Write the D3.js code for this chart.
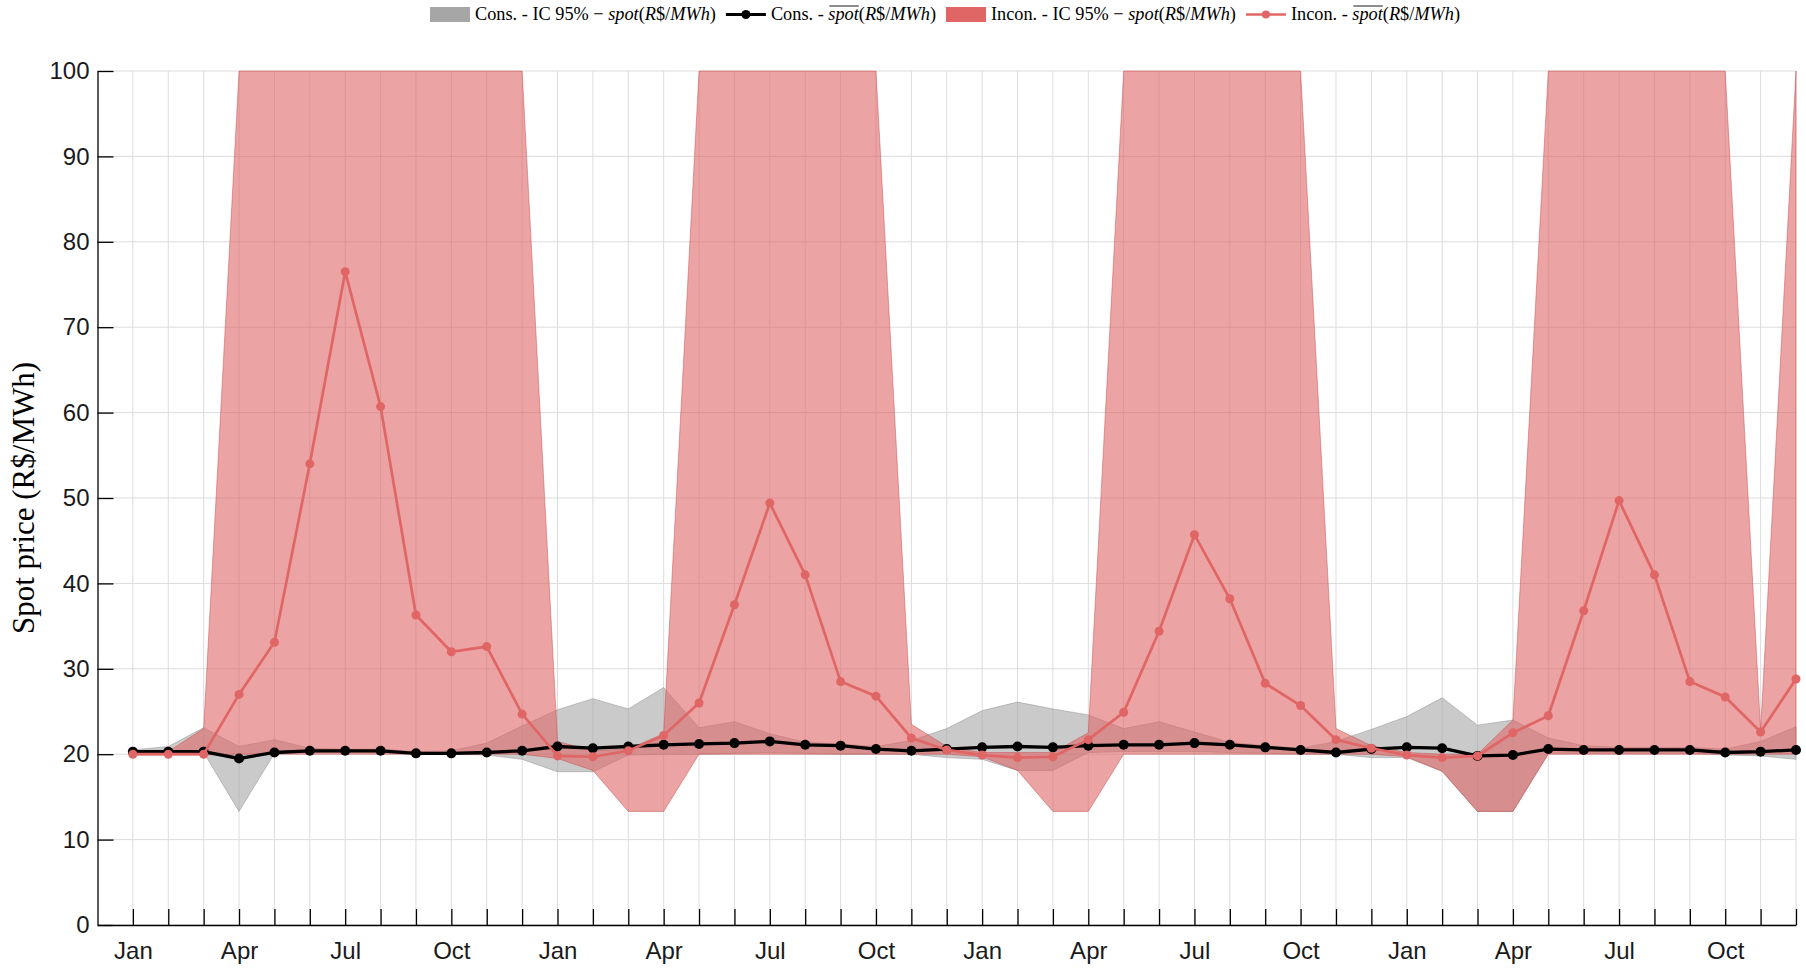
<!DOCTYPE html>
<html><head><meta charset="utf-8">
<script src="https://cdn.jsdelivr.net/npm/d3@7"></script>
<style>body{margin:0;background:#fff;} svg{display:block;} text{white-space:pre;}</style>
</head><body><svg id="chart" width="1806" height="969"></svg>
<script>
// ---------------- data ----------------
const monthNames = ["Jan","Feb","Mar","Apr","May","Jun","Jul","Aug","Sep","Oct","Nov","Dec"];
const years = [1, 2, 3, 4];
const tickLabels = ["Jan","Apr","Jul","Oct"];
const yTicks = [0,10,20,30,40,50,60,70,80,90,100];

const consMean = [20.3,20.3,20.3,19.5,20.2,20.4,20.4,20.4,20.1,20.1,20.2,20.4,
  20.9,20.7,20.9,21.1,21.2,21.3,21.5,21.1,21.0,20.6,20.4,20.6,
  20.8,20.9,20.8,21.0,21.1,21.1,21.3,21.1,20.8,20.5,20.2,20.6,
  20.8,20.7,19.8,19.9,20.6,20.5,20.5,20.5,20.5,20.2,20.3,20.5];
const consLower = [20.1,20.1,20.2,13.3,20.1,20.2,20.2,20.2,20.0,20.0,19.9,19.4,
  17.95,17.95,19.9,20.0,20.0,20.1,20.2,20.1,20.0,20.0,20.0,19.6,
  19.4,18.1,18.1,20.2,20.3,20.3,20.3,20.2,20.1,20.0,20.0,19.6,
  19.6,18.0,13.3,13.3,20.1,20.1,20.1,20.1,20.1,19.9,19.8,19.4];
const consUpper = [20.5,20.9,23.1,20.9,21.7,20.7,20.6,20.6,20.3,20.4,21.3,23.3,
  25.2,26.5,25.3,27.8,23.1,23.8,22.4,21.4,21.2,20.9,21.6,23.0,
  25.1,26.1,25.3,24.6,23.0,23.8,22.6,21.4,21.0,20.7,21.5,22.9,
  24.4,26.6,23.4,24.0,21.9,21.0,20.8,20.8,20.8,20.6,21.5,23.2];

const inconMean = [20.0,20.0,20.0,27.0,33.1,54.0,76.5,60.7,36.3,32.0,32.6,24.7,
  19.8,19.7,20.4,22.2,26.0,37.5,49.4,41.0,28.5,26.8,21.9,20.5,
  19.9,19.6,19.7,21.7,24.9,34.4,45.7,38.2,28.3,25.7,21.7,20.7,
  19.9,19.6,19.8,22.5,24.5,36.8,49.7,41.0,28.5,26.7,22.6,28.8];
const inconLower = [19.9,19.9,19.9,20.0,20.0,20.0,20.0,20.0,20.0,20.0,20.0,20.0,
  19.5,18.1,13.3,13.3,20.0,20.0,20.0,20.0,20.0,20.0,20.0,20.0,
  19.7,18.1,13.3,13.3,20.0,20.0,20.0,20.0,20.0,20.0,20.0,20.0,
  19.7,18.0,13.3,13.3,20.0,20.0,20.0,20.0,20.0,20.0,20.0,20.0];
const inconUpper = [20.2,20.3,23.0,100,100,100,100,100,100,100,100,100,
  21.5,20.4,20.6,22.4,100,100,100,100,100,100,23.5,20.9,
  20.2,20.2,20.2,22.5,100,100,100,100,100,100,23.0,21.0,
  20.2,20.0,20.0,24.0,100,100,100,100,100,100,22.8,100];

// ---------------- chart ----------------
const categories = [];
years.forEach(yr => monthNames.forEach(m => categories.push(m + " " + yr)));
const idx = categories.map((c, i) => i);

const svg = d3.select("#chart");
const x = d3.scaleLinear().domain([-1, categories.length - 1]).range([97.5, 1796]);
const y = d3.scaleLinear().domain([0, 100]).range([925, 71]);

// grid
const grid = svg.append("g");
grid.selectAll("line.v").data(idx).join("line")
  .attr("x1", d => x(d)).attr("x2", d => x(d))
  .attr("y1", y(0)).attr("y2", y(100))
  .attr("stroke", "#dcdcdc").attr("stroke-width", 1);
grid.selectAll("line.h").data(yTicks).join("line")
  .attr("x1", x(-1)).attr("x2", x(categories.length - 1))
  .attr("y1", d => y(d)).attr("y2", d => y(d))
  .attr("stroke", "#dcdcdc").attr("stroke-width", 1);

// bands
const band = (lo, hi) => d3.area().x((d, i) => x(i)).y0((d, i) => y(lo[i])).y1((d, i) => y(hi[i]));
svg.append("path").datum(idx).attr("d", band(consLower, consUpper))
  .attr("fill", "#a6a6a6").attr("fill-opacity", 0.6)
  .attr("stroke", "#8a8a8a").attr("stroke-opacity", 0.6).attr("stroke-width", 0.8);
svg.append("path").datum(idx).attr("d", band(inconLower, inconUpper))
  .attr("fill", "#e06666").attr("fill-opacity", 0.6)
  .attr("stroke", "#c84a4a").attr("stroke-opacity", 0.6).attr("stroke-width", 0.8);

// lines
const lineGen = arr => d3.line().x((d, i) => x(i)).y((d, i) => y(arr[i]));
svg.append("path").datum(idx).attr("d", lineGen(consMean))
  .attr("fill", "none").attr("stroke", "#000").attr("stroke-width", 3.3);
svg.append("g").selectAll("circle").data(consMean).join("circle")
  .attr("cx", (d, i) => x(i)).attr("cy", d => y(d)).attr("r", 5).attr("fill", "#000");
svg.append("path").datum(idx).attr("d", lineGen(inconMean))
  .attr("fill", "none").attr("stroke", "#e06666").attr("stroke-width", 2.7);
svg.append("g").selectAll("circle").data(inconMean).join("circle")
  .attr("cx", (d, i) => x(i)).attr("cy", d => y(d)).attr("r", 4.5).attr("fill", "#e06666");

// axes
const yAxis = svg.append("g").attr("transform", `translate(${x(-1)},0)`)
  .call(d3.axisLeft(y).tickValues(yTicks).tickSize(-16).tickSizeOuter(0).tickPadding(8));
const xAxis = svg.append("g").attr("transform", `translate(0,${y(0)})`)
  .call(d3.axisBottom(x).tickValues(idx).tickSize(-16).tickSizeOuter(0).tickPadding(17)
    .tickFormat(i => { const m = monthNames[i % 12]; return tickLabels.includes(m) ? m : ""; }));
[xAxis, yAxis].forEach(a => {
  a.selectAll("path.domain").attr("stroke", "#000").attr("stroke-width", 1.3);
  a.selectAll(".tick line").attr("stroke", "#000").attr("stroke-width", 1.3);
  a.selectAll(".tick text").attr("font-family", "'Liberation Sans', Arial, sans-serif")
    .attr("font-size", 24).attr("fill", "#1a1a1a");
});

// y title
svg.append("text").attr("transform", "translate(34,498) rotate(-90)")
  .attr("text-anchor", "middle").attr("font-family", "'Liberation Serif', 'Times New Roman', serif")
  .attr("font-size", 31).attr("fill", "#000").text("Spot price (R$/MWh)");

// legend
const leg = svg.append("g").attr("font-family", "'Liberation Serif', 'Times New Roman', serif")
  .attr("font-size", 18.3).attr("fill", "#000");
const yb = 20;
function parts(g, x0, list) {
  let cx = x0;
  list.forEach(p => {
    const t = g.append("text").attr("x", cx).attr("y", yb)
      .attr("font-style", p.i ? "italic" : "normal").text(p.t);
    const w = t.node().getComputedTextLength();
    if (p.o) g.append("line").attr("x1", cx + 1).attr("x2", cx + w).attr("y1", yb - 14).attr("y2", yb - 14)
      .attr("stroke", "#000").attr("stroke-width", 0.9);
    cx += w;
  });
  return cx;
}
const unit = [{t:"("},{t:"R",i:1},{t:"$/"},{t:"MWh",i:1},{t:")"}];
const legendItems = [
  {kind:"rect", color:"#a6a6a6", label:[{t:"Cons. - IC 95% "},{t:"− "},{t:"spot",i:1}, ...unit]},
  {kind:"line", color:"#000", r:4.5, w:3, label:[{t:"Cons. - "},{t:"spot",i:1,o:1}, ...unit]},
  {kind:"rect", color:"#e06666", label:[{t:"Incon. - IC 95% "},{t:"− "},{t:"spot",i:1}, ...unit]},
  {kind:"line", color:"#e06666", r:4, w:2.5, label:[{t:"Incon. - "},{t:"spot",i:1,o:1}, ...unit]}
];
let lx = 430;
legendItems.forEach(it => {
  if (it.kind === "rect") {
    leg.append("rect").attr("x", lx).attr("y", 7).attr("width", 40).attr("height", 15).attr("fill", it.color);
  } else {
    leg.append("line").attr("x1", lx).attr("x2", lx + 40).attr("y1", 14.5).attr("y2", 14.5)
      .attr("stroke", it.color).attr("stroke-width", it.w);
    leg.append("circle").attr("cx", lx + 20).attr("cy", 14.5).attr("r", it.r).attr("fill", it.color);
  }
  lx = parts(leg, lx + 45, it.label) + 10;
});
</script></body></html>
